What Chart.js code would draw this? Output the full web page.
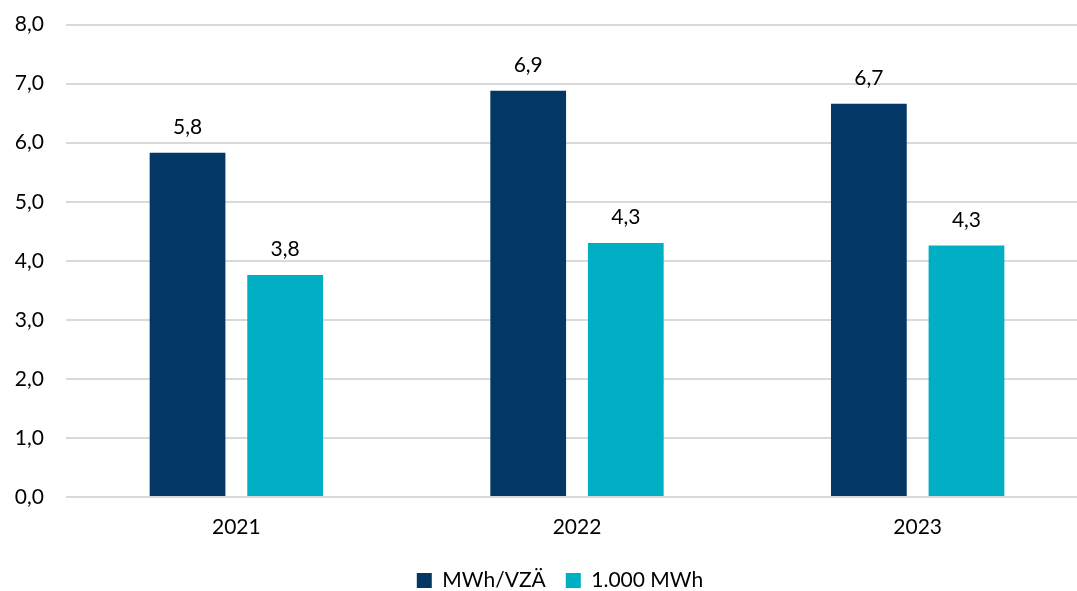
<!DOCTYPE html>
<html>
<head>
<meta charset="utf-8">
<script src="https://cdn.jsdelivr.net/npm/chart.js@4"></script>
<style>
  html, body { margin: 0; padding: 0; background: #ffffff; overflow: hidden; }
  #wrap { position: absolute; left: 0; top: -10px; width: 1088px; height: 601px; }
</style>
</head>
<body>
<div id="wrap"><canvas id="c" width="1088" height="601"></canvas></div>
<script>
const years = ['2021', '2022', '2023'];
const mwhPerFte = [5.83, 6.88, 6.66];
const thousandMwh = [3.76, 4.30, 4.26];
const seriesNames = ['MWh/VZÄ', '1.000 MWh'];
const yTicks = [0, 1, 2, 3, 4, 5, 6, 7, 8];

const FONT = 'Lato, "Open Sans", sans-serif';
const fmt = v => v.toFixed(1).replace('.', ',');

// Writes each bar's value centred above it
const valueLabels = {
  id: 'valueLabels',
  afterDatasetsDraw(chart) {
    const ctx = chart.ctx;
    ctx.save();
    ctx.font = '21px ' + FONT;
    ctx.fillStyle = '#000000';
    ctx.textAlign = 'center';
    ctx.textBaseline = 'bottom';
    chart.data.datasets.forEach((ds, i) => {
      chart.getDatasetMeta(i).data.forEach((bar, j) => {
        ctx.fillText(fmt(ds.data[j]), bar.x, bar.y - 15);
      });
    });
    ctx.restore();
  }
};

// Centres the legend under the visible page width
const legendShift = {
  id: 'legendShift',
  afterLayout(chart) {
    const lg = chart.legend;
    if (lg) { lg.left += 12; lg.right += 12; }
  }
};

new Chart(document.getElementById('c'), {
  type: 'bar',
  data: {
    labels: years,
    datasets: [
      { label: seriesNames[0], data: mwhPerFte, backgroundColor: '#023766' },
      { label: seriesNames[1], data: thousandMwh, backgroundColor: '#00AFC4' }
    ]
  },
  options: {
    responsive: false,
    animation: false,
    layout: { padding: { top: 0, left: 8, right: 0, bottom: -10 } },
    datasets: { bar: { categoryPercentage: 0.573, barPercentage: 0.776 } },
    scales: {
      x: {
        afterFit: s => { s.height = 53; },
        grid: { display: false },
        border: { display: false },
        ticks: { color: '#000000', font: { family: FONT, size: 21 }, padding: 10 }
      },
      y: {
        min: 0, max: 8,
        afterBuildTicks: s => { s.ticks = yTicks.map(v => ({ value: v })); },
        afterFit: s => { s.width = 58; },
        grid: { color: '#d9d9d9', lineWidth: 2, drawTicks: false },
        border: { display: false },
        ticks: { color: '#000000', font: { family: FONT, size: 21 }, padding: 22,
                 callback: v => fmt(v) }
      }
    },
    plugins: {
      legend: {
        position: 'bottom',
        labels: { color: '#000000', font: { family: FONT, size: 21 },
                  boxWidth: 15, boxHeight: 15, padding: 20 }
      },
      tooltip: { enabled: false }
    }
  },
  plugins: [valueLabels, legendShift]
});
</script>
</body>
</html>
